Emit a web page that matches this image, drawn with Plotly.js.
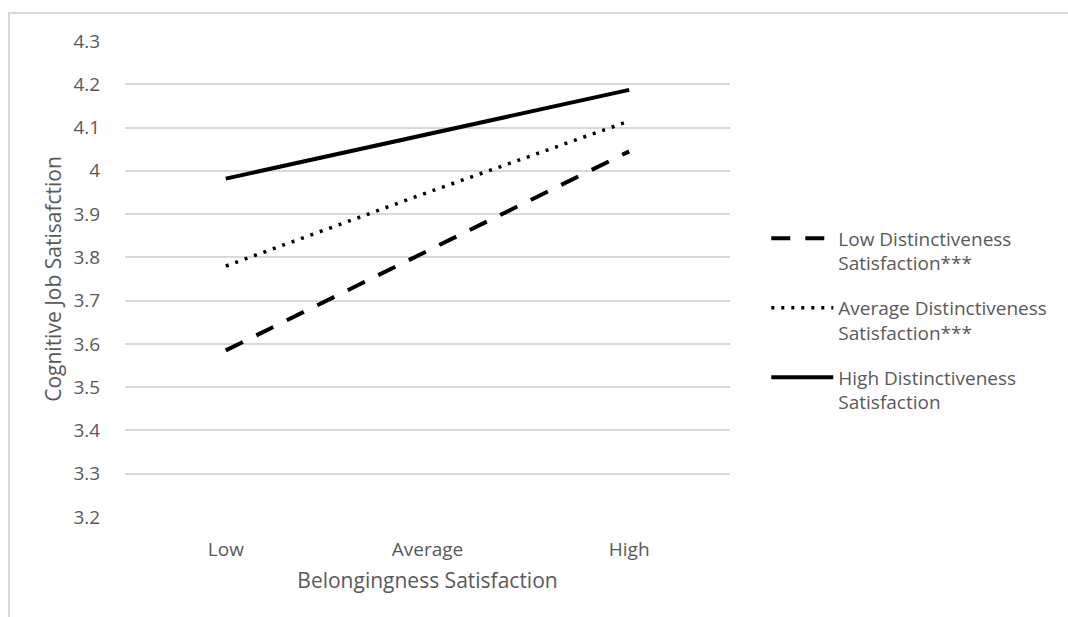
<!DOCTYPE html>
<html>
<head>
<meta charset="utf-8">
<script src="https://cdn.plot.ly/plotly-3.0.1.min.js"></script>
<style>
  html, body { margin: 0; padding: 0; background: #ffffff; }
  #wrap { position: relative; width: 1068px; height: 617px; }
  #frame { position: absolute; left: 8px; top: 12px; width: 1060px; height: 605px;
           border-left: 2px solid #d9d9d9; border-top: 2px solid #d9d9d9; box-sizing: border-box; pointer-events: none; }
  #chart { position: absolute; left: 0; top: 0; width: 1068px; height: 617px; }
</style>
</head>
<body>
<div id="wrap">
  <div id="chart"></div>
  <div id="frame"></div>
</div>
<script>
const categories = ["Low", "Average", "High"];
const seriesNames = [
  "Low Distinctiveness<br>Satisfaction***",
  "Average Distinctiveness<br>Satisfaction***",
  "High Distinctiveness<br>Satisfaction"
];
const lowDistinct = [3.585, 3.815, 4.045];
const avgDistinct = [3.78, 3.95, 4.115];
const highDistinct = [3.982, 4.085, 4.187];
const yTicks = [3.2, 3.3, 3.4, 3.5, 3.6, 3.7, 3.8, 3.9, 4, 4.1, 4.2, 4.3];
const yTickText = ["3.2", "3.3", "3.4", "3.5", "3.6", "3.7", "3.8", "3.9", "4", "4.1", "4.2", "4.3"];

const fam = "Open Sans, Noto Sans, sans-serif";
const tickFont = { family: fam, size: 19, color: "#595959" };
const titleFont = { family: fam, size: 21, color: "#595959" };
const legendFont = { family: fam, size: 19, color: "#595959" };

const traces = [
  { x: categories, y: lowDistinct, name: seriesNames[0], legendgroup: "g1", type: "scatter", mode: "lines",
    line: { color: "#000000", width: 4, dash: "19px,15px" } },
  { x: categories, y: avgDistinct, name: seriesNames[1], legendgroup: "g2", type: "scatter", mode: "lines",
    line: { color: "#000000", width: 3.5, dash: "3px,7px" } },
  { x: categories, y: highDistinct, name: seriesNames[2], legendgroup: "g3", type: "scatter", mode: "lines",
    line: { color: "#000000", width: 4 } }
];

const layout = {
  width: 1068, height: 617,
  margin: { l: 125, r: 338, t: 41, b: 100 },
  paper_bgcolor: "#ffffff", plot_bgcolor: "#ffffff",
  font: tickFont,
  showlegend: true,
  legend: {
    x: 1.06, y: 0.625, xanchor: "left", yanchor: "top",
    font: legendFont, itemwidth: 62, tracegroupgap: 17,
    bgcolor: "rgba(0,0,0,0)", traceorder: "grouped", valign: "top"
  },
  xaxis: {
    type: "category", range: [-0.5, 2.5],
    showgrid: false, zeroline: false, showline: false,
    ticks: "outside", ticklen: 15, tickcolor: "rgba(0,0,0,0)",
    tickfont: tickFont,
    title: { text: "Belongingness Satisfaction", font: titleFont, standoff: 12 }
  },
  yaxis: {
    range: [3.2, 4.3], tickvals: yTicks, ticktext: yTickText,
    showgrid: true, gridcolor: "#d9d9d9", gridwidth: 2,
    zeroline: false, showline: false,
    ticks: "outside", ticklen: 20, tickcolor: "rgba(0,0,0,0)",
    tickfont: tickFont,
    title: { text: "Cognitive Job Satisafction", font: titleFont, standoff: 6 }
  }
};

Plotly.newPlot("chart", traces, layout, { displayModeBar: false, staticPlot: true });
</script>
</body>
</html>
